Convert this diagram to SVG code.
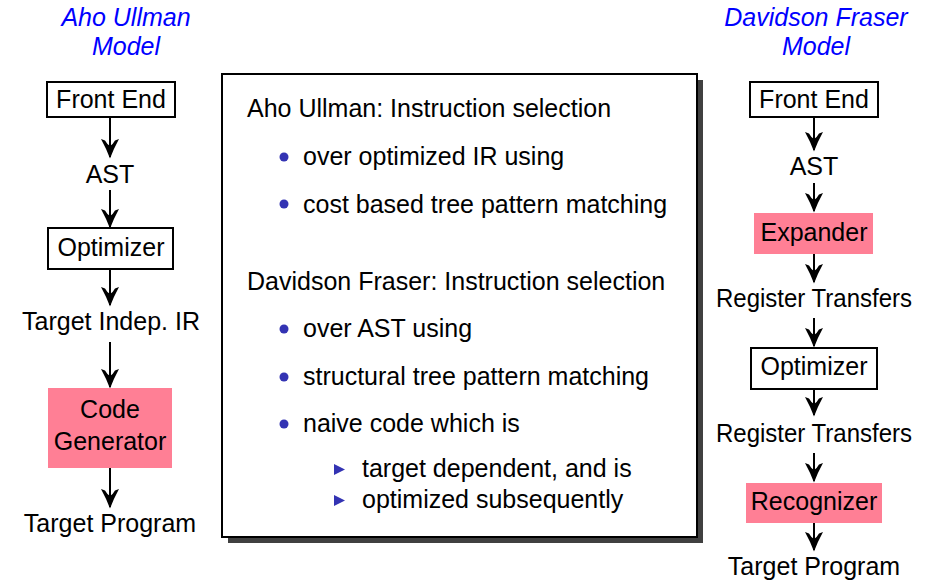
<svg xmlns="http://www.w3.org/2000/svg" width="932" height="585" viewBox="0 0 932 585">
<defs>
<style>
text{font-family:"Liberation Sans",Arial,sans-serif;font-size:25px;fill:#000}
.c{text-anchor:middle}
.t{fill:#0000ff;font-style:italic}
.box{fill:#fff;stroke:#000;stroke-width:2}
.pink{fill:#ff7f95;stroke:none}
.ln{stroke:#000;stroke-width:2;fill:none}
.b{fill:#3333b3}
</style>
<marker id="ah" markerUnits="userSpaceOnUse" markerWidth="24" markerHeight="22" viewBox="-21 -11 24 22" refX="0" refY="0" orient="auto" overflow="visible">
<path d="M1.5,0 Q-8,-3.5 -18,-9 L-16.5,-5 Q-12,-2.5 -11,0 Q-12,2.5 -16.5,5 L-18,9 Q-8,3.5 1.5,0 Z" fill="#000"/>
</marker>
</defs>
<rect width="932" height="585" fill="#fff"/>
<g id="titles">
<text class="c t" x="126" y="26">Aho Ullman</text>
<text class="c t" x="126" y="55">Model</text>
<text class="c t" x="816" y="26">Davidson Fraser</text>
<text class="c t" x="816" y="55">Model</text>
</g>
<g id="connectors">
<line class="ln" x1="110" y1="117" x2="110" y2="157" marker-end="url(#ah)"/>
<line class="ln" x1="110" y1="190" x2="110" y2="227" marker-end="url(#ah)"/>
<line class="ln" x1="110" y1="269" x2="110" y2="305" marker-end="url(#ah)"/>
<line class="ln" x1="110" y1="342" x2="110" y2="387" marker-end="url(#ah)"/>
<line class="ln" x1="110" y1="468" x2="110" y2="507" marker-end="url(#ah)"/>
<line class="ln" x1="814" y1="117" x2="814" y2="150" marker-end="url(#ah)"/>
<line class="ln" x1="814" y1="183" x2="814" y2="211" marker-end="url(#ah)"/>
<line class="ln" x1="814" y1="254" x2="814" y2="282" marker-end="url(#ah)"/>
<line class="ln" x1="814" y1="318" x2="814" y2="346" marker-end="url(#ah)"/>
<line class="ln" x1="814" y1="389" x2="814" y2="415" marker-end="url(#ah)"/>
<line class="ln" x1="814" y1="453" x2="814" y2="481" marker-end="url(#ah)"/>
<line class="ln" x1="814" y1="523" x2="814" y2="550" marker-end="url(#ah)"/>
</g>
<g id="au-frontend"><rect class="box" x="47" y="82" width="128" height="35"/><text class="c" x="111" y="108">Front End</text></g>
<g id="au-ast"><text class="c" x="110" y="183">AST</text></g>
<g id="au-optimizer"><rect class="box" x="48" y="228" width="125" height="41"/><text class="c" x="111" y="256">Optimizer</text></g>
<g id="au-ir"><text class="c" x="111" y="330" textLength="178" lengthAdjust="spacingAndGlyphs">Target Indep. IR</text></g>
<g id="au-codegen"><rect class="pink" x="48" y="388" width="124" height="80"/><text class="c" x="110" y="418">Code</text><text class="c" x="110" y="450">Generator</text></g>
<g id="au-target"><text class="c" x="110" y="532">Target Program</text></g>
<g id="df-frontend"><rect class="box" x="750" y="82" width="128" height="35"/><text class="c" x="814" y="108">Front End</text></g>
<g id="df-ast"><text class="c" x="814" y="175">AST</text></g>
<g id="df-expander"><rect class="pink" x="754" y="213" width="119" height="41"/><text class="c" x="814" y="241">Expander</text></g>
<g id="df-rt1"><text class="c" x="814" y="307" textLength="196" lengthAdjust="spacingAndGlyphs">Register Transfers</text></g>
<g id="df-optimizer"><rect class="box" x="751" y="348" width="126" height="41"/><text class="c" x="814" y="375">Optimizer</text></g>
<g id="df-rt2"><text class="c" x="814" y="442" textLength="196" lengthAdjust="spacingAndGlyphs">Register Transfers</text></g>
<g id="df-recognizer"><rect class="pink" x="746" y="483" width="136" height="40"/><text class="c" x="814" y="510">Recognizer</text></g>
<g id="df-target"><text class="c" x="814" y="575">Target Program</text></g>
<g id="summary">
<rect x="228" y="80" width="475" height="463" fill="#404040"/>
<rect class="box" x="222" y="74" width="475" height="463"/>
<text x="247" y="117">Aho Ullman: Instruction selection</text>
<circle class="b" cx="284" cy="157" r="4.5"/>
<text x="303" y="165">over optimized IR using</text>
<circle class="b" cx="284" cy="204" r="4.5"/>
<text x="303" y="213">cost based tree pattern matching</text>
<text x="247" y="290">Davidson Fraser: Instruction selection</text>
<circle class="b" cx="284" cy="329" r="4.5"/>
<text x="303" y="337">over AST using</text>
<circle class="b" cx="284" cy="377" r="4.5"/>
<text x="303" y="385">structural tree pattern matching</text>
<circle class="b" cx="284" cy="424" r="4.5"/>
<text x="303" y="432">naive code which is</text>
<path class="b" d="M334,464 L345,469.5 L334,475 Z"/>
<text x="362" y="477">target dependent, and is</text>
<path class="b" d="M334,495 L345,500.5 L334,506 Z"/>
<text x="362" y="508">optimized subsequently</text>
</g>
</svg>
